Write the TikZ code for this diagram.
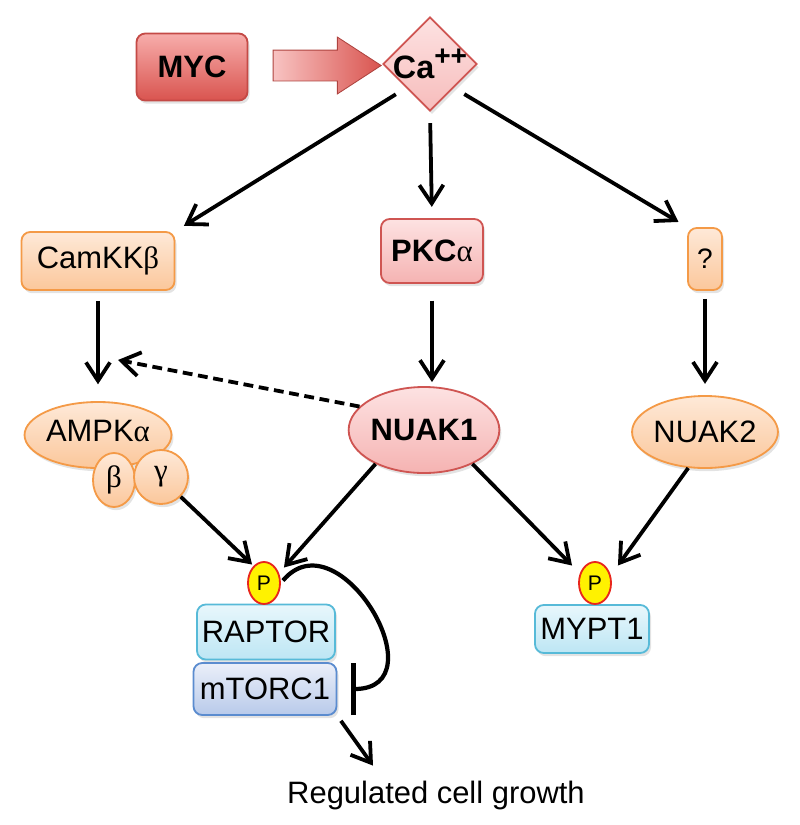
\documentclass[tikz,border=0pt]{standalone}
\usepackage{fontspec}
\setmainfont{Liberation Sans}
\newfontfamily\grk{Liberation Serif}
\usepackage{xcolor}
\usetikzlibrary{arrows.meta,shapes.geometric,shapes.arrows,shadows,calc}

\definecolor{mycTop}{HTML}{F7ADAB}
\definecolor{mycBot}{HTML}{D9544F}
\definecolor{redEdge}{HTML}{C44A46}
\definecolor{pinkTop}{HTML}{FDE2E2}
\definecolor{pinkBot}{HTML}{F5B3B2}
\definecolor{pinkEdge}{HTML}{CF5552}
\definecolor{orTop}{HTML}{FEE9D8}
\definecolor{orBot}{HTML}{FBC79B}
\definecolor{orEdge}{HTML}{F49A47}
\definecolor{cyTop}{HTML}{E8F7FC}
\definecolor{cyBot}{HTML}{BDE6F4}
\definecolor{cyEdge}{HTML}{57BAD8}
\definecolor{lvTop}{HTML}{EBEFF9}
\definecolor{lvBot}{HTML}{B8CAEA}
\definecolor{lvEdge}{HTML}{5B8CCF}
\definecolor{pYel}{HTML}{FFF200}
\definecolor{pRed}{HTML}{E8261C}
\definecolor{arrL}{HTML}{F8C3C2}
\definecolor{arrR}{HTML}{D9544F}

\begin{document}
\begin{tikzpicture}[x=0.025cm,y=-0.025cm,>={Straight Barb[length=4.6mm,width=6mm]},font=\fontsize{22}{26}\selectfont]
    \tikzset{shadowed/.style={drop shadow={opacity=0.22,shadow xshift=0.05cm,shadow yshift=-0.08cm}},
             box/.style={rectangle,rounded corners=0.22cm,inner sep=0pt,line width=1.3pt,shadowed},
             blob/.style={ellipse,inner sep=0pt,line width=1.3pt,shadowed},
             redbox/.style={box,draw=redEdge,top color=mycTop,bottom color=mycBot},
             pinkbox/.style={box,draw=pinkEdge,top color=pinkTop,bottom color=pinkBot},
             orbox/.style={box,draw=orEdge,top color=orTop,bottom color=orBot},
             cybox/.style={box,draw=cyEdge,top color=cyTop,bottom color=cyBot},
             lvbox/.style={box,draw=lvEdge,top color=lvTop,bottom color=lvBot},
             phos/.style={ellipse,inner sep=0pt,draw=pRed,fill=pYel,line width=1.3pt,minimum width=0.8cm,minimum height=1.05cm,font=\fontsize{15}{17}\selectfont},
             act/.style={->,line width=2.7pt,shorten >=0.25cm,shorten <=0.25cm}}

    \useasboundingbox (0,0) rectangle (800,825);

    % top row
    \node[redbox,minimum width=2.775cm,minimum height=1.675cm,font=\fontsize{22}{26}\selectfont\bfseries] (MYC) at (192,67) {MYC};
    \node[diamond,aspect=1,minimum size=2.35cm,inner sep=-3pt,line width=1.3pt,draw=pinkEdge,top color=pinkTop,bottom color=pinkBot!80!pinkTop,shadowed] (Ca) at (430,64)
        {\fontsize{23}{26}\selectfont\bfseries Ca\raisebox{0.4em}{\fontsize{20}{20}\selectfont ++}};
    \node[single arrow,inner xsep=0pt,inner ysep=0.375cm,single arrow head extend=0.325cm,single arrow tip angle=66,
          minimum height=2.7cm,draw=arrR!80!black,line width=0.6pt,left color=arrL,right color=arrR] (push) at ($(MYC.east)!0.5!(Ca.west)$) {};

    % kinases
    \node[orbox,minimum width=3.825cm,minimum height=1.45cm] (CamKK) at (98,261) {CamKK{\grk β}};
    \node[pinkbox,minimum width=2.55cm,minimum height=1.6cm] (PKC) at (432,251) {\textbf{PKC}{\grk α}};
    \node[orbox,minimum width=0.85cm,minimum height=1.55cm,font=\fontsize{20}{24}\selectfont] (Q) at (705,259) {?};

    % AMPK complex and NUAKs
    \node[blob,draw=orEdge,top color=orTop,bottom color=orBot,minimum width=3.25cm,minimum height=1.65cm,text depth=0pt] (AMPK) at (98,435) {\raisebox{0.3em}{AMPK{\grk α}}};
    \node[blob,draw=orEdge,top color=orTop,bottom color=orBot,minimum width=1.05cm,minimum height=1.35cm] (B) at (114,480) {\grk β};
    \node[blob,draw=orEdge,top color=orTop,bottom color=orBot,minimum width=1.35cm,minimum height=1.35cm] (G) at (161,477) {\raisebox{0.2em}{\grk γ}};
    \node[blob,draw=pinkEdge,top color=pinkTop,bottom color=pinkBot,minimum width=3.2cm,minimum height=2.15cm,font=\fontsize{22}{26}\selectfont\bfseries] (NUAK1) at (424,430) {NUAK1};
    \node[blob,draw=orEdge,top color=orTop,bottom color=orBot,minimum width=2.9cm,minimum height=1.8cm] (NUAK2) at (705,432) {NUAK2};

    % substrates
    \node[cybox,minimum width=3.45cm,minimum height=1.375cm] (RAPTOR) at (266,632) {RAPTOR};
    \node[lvbox,minimum width=3.575cm,minimum height=1.3cm] (mTORC) at (265,689) {mTORC1};
    \node[phos] (P1) at (264,583) {P};
    \node[cybox,minimum width=2.85cm,minimum height=1.2cm] (MYPT) at (592,629) {MYPT1};
    \node[phos] (P2) at (595,583) {P};

    \node (growth) at (436,795) {Regulated cell growth};
    \coordinate (dashend) at (118,360);

    \path (Ca.south west) edge[act,shorten <=0.3cm] (CamKK.north east);
    \path (Ca.south)      edge[act,shorten <=0.28cm,shorten >=0.28cm] (PKC.north);
    \path (Ca.south east) edge[act,shorten <=0.3cm] (Q.north west);
    \path (CamKK.south)   edge[act,shorten >=0.42cm] (AMPK.north);
    \path (PKC.south)     edge[act,shorten <=0.42cm,shorten >=0.1cm] (PKC.south |- NUAK1.north);
    \path (Q.south)       edge[act,shorten <=0.2cm,shorten >=0.28cm] (NUAK2.north);
    \path (NUAK1.160)     edge[act,dash pattern=on 7pt off 4pt,shorten <=0cm,shorten >=0cm] (dashend);
    \path (G.-45)         edge[act,shorten <=0cm,shorten >=0cm] ($(P1.north west)+(0,-3)$);
    \path (NUAK1.215)     edge[act,shorten <=0cm,shorten >=0cm] ($(P1.north east)+(8,0)$);
    \path (NUAK1.-35)     edge[act,shorten <=0cm,shorten >=0cm] ($(P2.north west)+(-11,-2)$);
    \path (NUAK2.245)     edge[act,shorten <=0cm,shorten >=0cm] ($(P2.north east)+(11,-2)$);
    \draw[-{Bar[width=1.3cm]},line width=3pt,shorten <=0.08cm] (P1.east) to[out=50,in=0,looseness=1.8] ($(mTORC.east)+(14,0)$);
    \path (mTORC.south east) edge[act,shorten <=0.15cm,shorten >=0cm] ($(growth.north)+(-63,-10)$);
\end{tikzpicture}
\end{document}
